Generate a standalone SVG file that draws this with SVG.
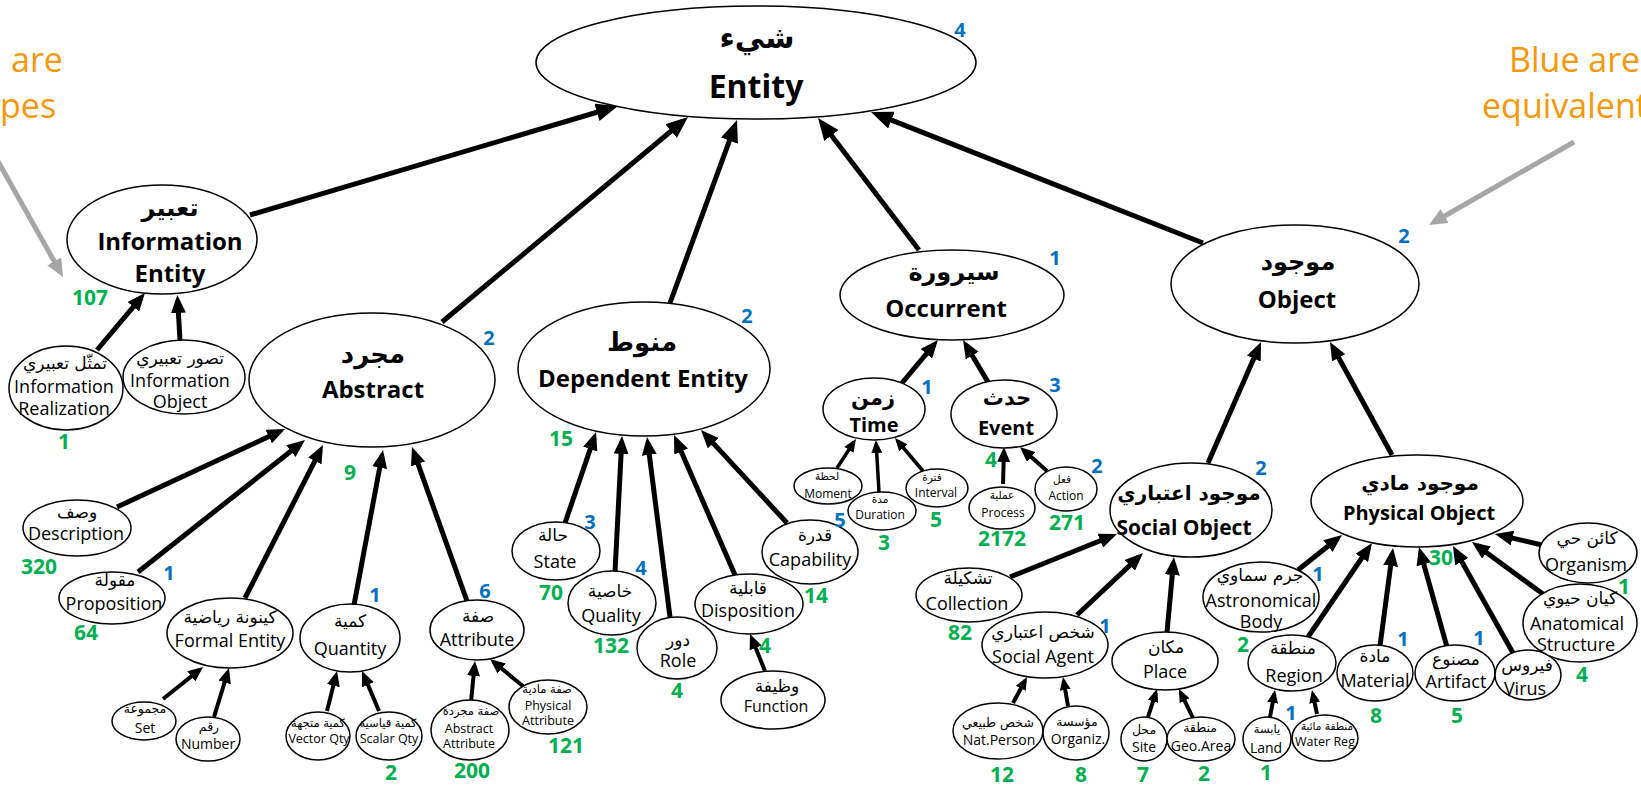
<svg xmlns="http://www.w3.org/2000/svg" width="1641" height="785" viewBox="0 0 1641 785">
<style>
  .nd ellipse { fill:#fff; stroke:#000; stroke-width:1.5; }
  text { text-anchor:middle; }
  .ar { font-family:"DejaVu Sans", sans-serif; fill:#000; }
  .en { font-family:"Open Sans", "Noto Sans", sans-serif; fill:#000; }
  .b { font-weight:bold; }
  .g { font-family:"Open Sans", "Noto Sans", sans-serif; font-weight:bold; font-size:21px; fill:#00b050; }
  .bl { font-family:"Open Sans", "Noto Sans", sans-serif; font-weight:bold; font-size:20px; fill:#0070c0; }
  .note { font-family:"Open Sans", "Noto Sans", sans-serif; font-size:34px; fill:#f7970a; text-anchor:start; }
  .c line { stroke:#000; stroke-linecap:butt; }
  .w5 { stroke-width:5; }
  .w4 { stroke-width:4; }
  .w35 { stroke-width:3.5; }
  .hA { marker-end:url(#hA); }
  .hM { marker-end:url(#hM); }
  .hQ { marker-end:url(#hQ); }
  .hS { marker-end:url(#hS); }
  .grey line { stroke:#a6a6a6; stroke-width:5; marker-end:url(#hG); }
</style>
<defs>
  <marker id="hA" markerUnits="userSpaceOnUse" markerWidth="22" markerHeight="18" refX="15" refY="9" orient="auto"><path d="M0,0 L22,9 L0,18 z" fill="#000"/></marker>
  <marker id="hM" markerUnits="userSpaceOnUse" markerWidth="18" markerHeight="15" refX="12" refY="7.5" orient="auto"><path d="M0,0 L18,7.5 L0,15 z" fill="#000"/></marker>
  <marker id="hQ" markerUnits="userSpaceOnUse" markerWidth="15" markerHeight="13" refX="10" refY="6.5" orient="auto"><path d="M0,0 L15,6.5 L0,13 z" fill="#000"/></marker>
  <marker id="hS" markerUnits="userSpaceOnUse" markerWidth="13" markerHeight="11" refX="9" refY="5.5" orient="auto"><path d="M0,0 L13,5.5 L0,11 z" fill="#000"/></marker>
  <marker id="hG" markerUnits="userSpaceOnUse" markerWidth="18" markerHeight="16" refX="12" refY="8" orient="auto"><path d="M0,0 L18,8 L0,16 z" fill="#a6a6a6"/></marker>
</defs>

<rect x="0" y="0" width="1641" height="785" fill="#fff"/>

<!-- side notes -->
<g id="notes">
  <text class="note" x="11" y="72">are</text>
  <text class="note" x="0" y="118">pes</text>
  <text class="note" x="1509" y="72">Blue are</text>
  <text class="note" x="1482" y="118">equivalent</text>
  <g class="grey">
    <line x1="-10" y1="147" x2="60.1" y2="271.8"/>
    <line x1="1574" y1="142" x2="1434.2" y2="222"/>
  </g>
</g>

<!-- subclass links, child to parent -->
<g id="connectors" class="c">
  <line class="w5 hA" x1="250" y1="215" x2="611.3" y2="108"/>
  <line class="w5 hA" x1="442" y1="322" x2="682.6" y2="121.5"/>
  <line class="w5 hA" x1="670" y1="303" x2="734.6" y2="126.6"/>
  <line class="w5 hA" x1="919" y1="250" x2="822.3" y2="123.6"/>
  <line class="w5 hA" x1="1203" y1="243" x2="877.5" y2="114.6"/>

  <line class="w5 hM" x1="97" y1="350" x2="141.1" y2="297.6"/>
  <line class="w5 hM" x1="180" y1="340" x2="177.7" y2="301"/>

  <line class="w5 hM" x1="117" y1="507" x2="279.6" y2="431.5"/>
  <line class="w5 hM" x1="138" y1="572" x2="300.3" y2="443.7"/>
  <line class="w5 hM" x1="245" y1="598" x2="320.3" y2="450.3"/>
  <line class="w5 hM" x1="354" y1="605" x2="381.9" y2="455.9"/>
  <line class="w5 hM" x1="467" y1="601" x2="414" y2="452.7"/>

  <line class="w5 hM" x1="565" y1="523" x2="594.1" y2="437.7"/>
  <line class="w5 hM" x1="615" y1="572" x2="621.7" y2="442"/>
  <line class="w5 hM" x1="670" y1="617" x2="647.8" y2="443"/>
  <line class="w5 hM" x1="735" y1="575" x2="676.4" y2="440.5"/>
  <line class="w5 hM" x1="787" y1="523" x2="705.1" y2="434.4"/>

  <line class="w4 hQ" x1="765" y1="671" x2="751.9" y2="638.6"/>

  <line class="w4 hQ" x1="163" y1="699" x2="199.1" y2="670.1"/>
  <line class="w4 hQ" x1="214" y1="717" x2="227.5" y2="672.8"/>
  <line class="w4 hQ" x1="327" y1="711" x2="335.8" y2="675.9"/>
  <line class="w4 hQ" x1="379" y1="711" x2="364" y2="675.6"/>
  <line class="w4 hQ" x1="471" y1="702" x2="474.5" y2="666"/>
  <line class="w4 hQ" x1="524" y1="687" x2="493.9" y2="662.2"/>

  <line class="w5 hM" x1="902" y1="383" x2="934.1" y2="344.6"/>
  <line class="w5 hM" x1="988" y1="382" x2="966.1" y2="345.2"/>

  <line class="w35 hS" x1="837" y1="468" x2="853.8" y2="442.3"/>
  <line class="w35 hS" x1="879" y1="492" x2="876.2" y2="444"/>
  <line class="w35 hS" x1="923" y1="471" x2="897.6" y2="441"/>

  <line class="w4 hQ" x1="1003" y1="484" x2="1003.9" y2="452"/>
  <line class="w4 hQ" x1="1047" y1="471" x2="1023.7" y2="450.3"/>

  <line class="w5 hM" x1="1208" y1="463" x2="1258.6" y2="347.5"/>
  <line class="w5 hM" x1="1392" y1="455" x2="1332.9" y2="347.3"/>

  <line class="w5 hM" x1="1010" y1="577" x2="1111.4" y2="536.2"/>
  <line class="w5 hM" x1="1077" y1="615" x2="1138.6" y2="557.1"/>
  <line class="w5 hM" x1="1167" y1="632" x2="1173.4" y2="563"/>

  <line class="w4 hS" x1="1013" y1="703" x2="1025.1" y2="680.5"/>
  <line class="w4 hS" x1="1068" y1="706" x2="1063.7" y2="681"/>
  <line class="w4 hS" x1="1148" y1="717" x2="1155.8" y2="692.8"/>
  <line class="w4 hS" x1="1193" y1="718" x2="1180.7" y2="692.6"/>

  <line class="w5 hM" x1="1298" y1="570" x2="1337.3" y2="538.7"/>
  <line class="w5 hM" x1="1308" y1="637" x2="1368.6" y2="548"/>
  <line class="w5 hM" x1="1380" y1="646" x2="1392.2" y2="554"/>
  <line class="w5 hM" x1="1447" y1="647" x2="1420.6" y2="552.8"/>
  <line class="w5 hM" x1="1513" y1="653" x2="1455.9" y2="551.2"/>
  <line class="w5 hM" x1="1543" y1="594" x2="1476.8" y2="545.5"/>
  <line class="w5 hM" x1="1542" y1="545" x2="1500.8" y2="535.4"/>

  <line class="w4 hS" x1="1270" y1="717" x2="1274.3" y2="693.9"/>
  <line class="w4 hS" x1="1317" y1="714" x2="1312.8" y2="693.9"/>
</g>

<!-- root -->
<g id="n-entity" class="nd">
  <ellipse cx="756" cy="62.5" rx="220" ry="56.5"/>
  <text class="ar b" x="757" y="48" font-size="30">شيء</text>
  <text class="en b" x="756" y="98" font-size="32">Entity</text>
  <text class="bl" x="960" y="37">4</text>
</g>

<!-- first level -->
<g id="n-information-entity" class="nd">
  <ellipse cx="162" cy="239.5" rx="95" ry="54.5"/>
  <text class="ar b" x="170" y="216" font-size="24">تعبير</text>
  <text class="en b" x="170" y="250" font-size="24">Information</text>
  <text class="en b" x="170" y="282" font-size="24">Entity</text>
  <text class="g" x="90" y="305">107</text>
</g>
<g id="n-abstract" class="nd">
  <ellipse cx="372" cy="380" rx="123" ry="67"/>
  <text class="ar b" x="373" y="363" font-size="26">مجرد</text>
  <text class="en b" x="373" y="398" font-size="24">Abstract</text>
  <text class="bl" x="489" y="345">2</text>
  <text class="g" x="350" y="480">9</text>
</g>
<g id="n-dependent-entity" class="nd">
  <ellipse cx="644" cy="369" rx="126" ry="67"/>
  <text class="ar b" x="642" y="351" font-size="26">منوط</text>
  <text class="en b" x="643" y="387" font-size="24">Dependent Entity</text>
  <text class="bl" x="747" y="323">2</text>
  <text class="g" x="561" y="446">15</text>
</g>
<g id="n-occurrent" class="nd">
  <ellipse cx="952" cy="295" rx="112" ry="45"/>
  <text class="ar b" x="954" y="280" font-size="24">سيرورة</text>
  <text class="en b" x="946" y="317" font-size="24">Occurrent</text>
  <text class="bl" x="1055" y="265">1</text>
</g>
<g id="n-object" class="nd">
  <ellipse cx="1295" cy="284" rx="124" ry="59"/>
  <text class="ar b" x="1298" y="270" font-size="24">موجود</text>
  <text class="en b" x="1297" y="308" font-size="24">Object</text>
  <text class="bl" x="1404" y="243">2</text>
</g>

<!-- information entity branch -->
<g id="n-information-realization" class="nd">
  <ellipse cx="66" cy="388" rx="57" ry="42"/>
  <text class="ar" x="65" y="369" font-size="17">تمثّل تعبيري</text>
  <text class="en" x="64" y="393" font-size="18">Information</text>
  <text class="en" x="64" y="415" font-size="18">Realization</text>
  <text class="g" x="64" y="449">1</text>
</g>
<g id="n-information-object" class="nd">
  <ellipse cx="184" cy="377" rx="61" ry="37"/>
  <text class="ar" x="180" y="364" font-size="17">تصور تعبيري</text>
  <text class="en" x="180" y="387" font-size="18">Information</text>
  <text class="en" x="180" y="408" font-size="18">Object</text>
</g>

<!-- abstract branch -->
<g id="n-description" class="nd">
  <ellipse cx="77" cy="528" rx="54" ry="28"/>
  <text class="ar" x="77" y="518" font-size="17">وصف</text>
  <text class="en" x="76" y="540" font-size="18">Description</text>
  <text class="g" x="39" y="574">320</text>
</g>
<g id="n-proposition" class="nd">
  <ellipse cx="112" cy="598" rx="53" ry="26"/>
  <text class="ar" x="115" y="586" font-size="17">مقولة</text>
  <text class="en" x="114" y="610" font-size="18">Proposition</text>
  <text class="bl" x="169" y="580">1</text>
  <text class="g" x="86" y="640">64</text>
</g>
<g id="n-formal-entity" class="nd">
  <ellipse cx="230" cy="633" rx="63" ry="35"/>
  <text class="ar" x="230" y="623" font-size="17">كينونة رياضية</text>
  <text class="en" x="230" y="647" font-size="18">Formal Entity</text>
</g>
<g id="n-set" class="nd">
  <ellipse cx="144" cy="721" rx="32" ry="19"/>
  <text class="ar" x="145" y="713" font-size="12.5">مجموعة</text>
  <text class="en" x="145" y="733" font-size="14">Set</text>
</g>
<g id="n-number" class="nd">
  <ellipse cx="208" cy="739" rx="32" ry="22"/>
  <text class="ar" x="209" y="731" font-size="12.5">رقم</text>
  <text class="en" x="208" y="749" font-size="14">Number</text>
</g>
<g id="n-quantity" class="nd">
  <ellipse cx="350" cy="638" rx="50" ry="34"/>
  <text class="ar" x="350" y="627" font-size="17">كمية</text>
  <text class="en" x="350" y="655" font-size="18">Quantity</text>
  <text class="bl" x="375" y="602">1</text>
</g>
<g id="n-vector-qty" class="nd">
  <ellipse cx="318" cy="736" rx="32" ry="24"/>
  <text class="ar" x="318" y="727" font-size="11.5">كمية متجهة</text>
  <text class="en" x="319" y="743" font-size="12.5">Vector Qty</text>
</g>
<g id="n-scalar-qty" class="nd">
  <ellipse cx="389" cy="736" rx="33" ry="24"/>
  <text class="ar" x="388" y="727" font-size="11.5">كمية قياسية</text>
  <text class="en" x="389" y="743" font-size="12.5">Scalar Qty</text>
  <text class="g" x="391" y="780">2</text>
</g>
<g id="n-attribute" class="nd">
  <ellipse cx="477" cy="630" rx="47" ry="30"/>
  <text class="ar" x="478" y="622" font-size="17">صفة</text>
  <text class="en" x="477" y="646" font-size="18">Attribute</text>
  <text class="bl" x="485" y="598">6</text>
</g>
<g id="n-abstract-attribute" class="nd">
  <ellipse cx="470" cy="730" rx="39" ry="30"/>
  <text class="ar" x="471" y="715" font-size="11.5">صفة مجردة</text>
  <text class="en" x="469" y="733" font-size="12.5">Abstract</text>
  <text class="en" x="469" y="748" font-size="12.5">Attribute</text>
  <text class="g" x="472" y="778">200</text>
</g>
<g id="n-physical-attribute" class="nd">
  <ellipse cx="548" cy="707" rx="39" ry="27"/>
  <text class="ar" x="547" y="693" font-size="11.5">صفة مادية</text>
  <text class="en" x="548" y="710" font-size="12.5">Physical</text>
  <text class="en" x="548" y="725" font-size="12.5">Attribute</text>
  <text class="g" x="566" y="753">121</text>
</g>

<!-- dependent entity branch -->
<g id="n-state" class="nd">
  <ellipse cx="556" cy="551" rx="44" ry="29"/>
  <text class="ar" x="553" y="541" font-size="17">حالة</text>
  <text class="en" x="555" y="568" font-size="18">State</text>
  <text class="bl" x="590" y="529">3</text>
  <text class="g" x="551" y="600">70</text>
</g>
<g id="n-quality" class="nd">
  <ellipse cx="612" cy="603" rx="44" ry="32"/>
  <text class="ar" x="610" y="597" font-size="17">خاصية</text>
  <text class="en" x="611" y="622" font-size="18">Quality</text>
  <text class="bl" x="641" y="575">4</text>
  <text class="g" x="611" y="653">132</text>
</g>
<g id="n-role" class="nd">
  <ellipse cx="677" cy="648" rx="40" ry="31"/>
  <text class="ar" x="678" y="646" font-size="17">دور</text>
  <text class="en" x="678" y="667" font-size="18">Role</text>
  <text class="g" x="677" y="698">4</text>
</g>
<g id="n-disposition" class="nd">
  <ellipse cx="749" cy="604" rx="54" ry="30"/>
  <text class="ar" x="748" y="594" font-size="17">قابلية</text>
  <text class="en" x="748" y="617" font-size="18">Disposition</text>
  <text class="g" x="765" y="653">4</text>
</g>
<g id="n-function" class="nd">
  <ellipse cx="773" cy="700" rx="52" ry="29"/>
  <text class="ar" x="777" y="692" font-size="17">وظيفة</text>
  <text class="en" x="776" y="712" font-size="16">Function</text>
</g>
<g id="n-capability" class="nd">
  <ellipse cx="810" cy="552" rx="48" ry="32"/>
  <text class="ar" x="815" y="541" font-size="17">قدرة</text>
  <text class="en" x="810" y="566" font-size="18">Capability</text>
  <text class="g" x="816" y="603">14</text>
</g>

<!-- occurrent branch -->
<g id="n-time" class="nd">
  <ellipse cx="874" cy="409" rx="51" ry="31"/>
  <text class="ar b" x="873" y="405" font-size="21">زمن</text>
  <text class="en b" x="874" y="432" font-size="20">Time</text>
  <text class="bl" x="927" y="394">1</text>
</g>
<g id="n-event" class="nd">
  <ellipse cx="1004" cy="414" rx="53" ry="34"/>
  <text class="ar b" x="1007" y="405" font-size="21">حدث</text>
  <text class="en b" x="1006" y="435" font-size="20">Event</text>
  <text class="bl" x="1055" y="392">3</text>
</g>
<g id="n-moment" class="nd">
  <ellipse cx="828" cy="486" rx="34" ry="18"/>
  <text class="ar" x="827" y="480" font-size="10.5">لحظة</text>
  <text class="en" x="828" y="498" font-size="12">Moment</text>
  <text class="bl" x="840" y="527">5</text>
</g>
<g id="n-duration" class="nd">
  <ellipse cx="882" cy="511" rx="34" ry="19"/>
  <text class="ar" x="880" y="503" font-size="10.5">مدة</text>
  <text class="en" x="880" y="519" font-size="12">Duration</text>
  <text class="g" x="884" y="550">3</text>
</g>
<g id="n-interval" class="nd">
  <ellipse cx="937" cy="488" rx="31" ry="19"/>
  <text class="ar" x="932" y="481" font-size="10.5">فترة</text>
  <text class="en" x="936" y="497" font-size="12">Interval</text>
  <text class="g" x="936" y="527">5</text>
</g>
<g id="n-process" class="nd">
  <ellipse cx="1002" cy="508" rx="33" ry="21"/>
  <text class="ar" x="1002" y="499" font-size="10.5">عملية</text>
  <text class="en" x="1003" y="517" font-size="12">Process</text>
  <text class="g" x="991" y="467">4</text>
  <text class="g" x="1002" y="546">2172</text>
</g>
<g id="n-action" class="nd">
  <ellipse cx="1066" cy="489" rx="31" ry="22"/>
  <text class="ar" x="1062" y="483" font-size="10.5">فعل</text>
  <text class="en" x="1066" y="500" font-size="12">Action</text>
  <text class="bl" x="1097" y="473">2</text>
  <text class="g" x="1067" y="530">271</text>
</g>

<!-- object branch -->
<g id="n-social-object" class="nd">
  <ellipse cx="1191" cy="510" rx="81" ry="47"/>
  <text class="ar b" x="1189" y="500" font-size="20">موجود اعتباري</text>
  <text class="en b" x="1184" y="535" font-size="21">Social Object</text>
  <text class="bl" x="1261" y="475">2</text>
</g>
<g id="n-physical-object" class="nd">
  <ellipse cx="1417" cy="501" rx="106" ry="46"/>
  <text class="ar b" x="1420" y="490" font-size="20">موجود مادي</text>
  <text class="en b" x="1419" y="520" font-size="20">Physical Object</text>
  <text class="g" x="1441" y="565">30</text>
</g>
<g id="n-collection" class="nd">
  <ellipse cx="969" cy="595" rx="53" ry="27"/>
  <text class="ar" x="968" y="584" font-size="17">تشكيلة</text>
  <text class="en" x="967" y="610" font-size="18">Collection</text>
  <text class="g" x="960" y="640">82</text>
</g>
<g id="n-social-agent" class="nd">
  <ellipse cx="1045" cy="645" rx="63" ry="33"/>
  <text class="ar" x="1043" y="638" font-size="17">شخص اعتباري</text>
  <text class="en" x="1043" y="663" font-size="18">Social Agent</text>
  <text class="bl" x="1105" y="633">1</text>
</g>
<g id="n-place" class="nd">
  <ellipse cx="1165" cy="661" rx="53" ry="29"/>
  <text class="ar" x="1166" y="653" font-size="17">مكان</text>
  <text class="en" x="1165" y="678" font-size="18">Place</text>
</g>
<g id="n-nat-person" class="nd">
  <ellipse cx="998" cy="731" rx="45" ry="28"/>
  <text class="ar" x="998" y="727" font-size="12.5">شخص طبيعي</text>
  <text class="en" x="999" y="745" font-size="14">Nat.Person</text>
  <text class="g" x="1002" y="782">12</text>
</g>
<g id="n-organization" class="nd">
  <ellipse cx="1076" cy="733" rx="33" ry="27"/>
  <text class="ar" x="1077" y="726" font-size="12.5">مؤسسة</text>
  <text class="en" x="1078" y="744" font-size="14">Organiz.</text>
  <text class="g" x="1081" y="782">8</text>
</g>
<g id="n-site" class="nd">
  <ellipse cx="1144" cy="739" rx="23" ry="22"/>
  <text class="ar" x="1144" y="734" font-size="12.5">محل</text>
  <text class="en" x="1144" y="752" font-size="14">Site</text>
  <text class="g" x="1143" y="782">7</text>
</g>
<g id="n-geo-area" class="nd">
  <ellipse cx="1201" cy="739" rx="34" ry="22"/>
  <text class="ar" x="1200" y="732" font-size="12.5">منطقة</text>
  <text class="en" x="1201" y="751" font-size="14">Geo.Area</text>
  <text class="g" x="1204" y="781">2</text>
</g>
<g id="n-astronomical-body" class="nd">
  <ellipse cx="1261" cy="597" rx="58" ry="35"/>
  <text class="ar" x="1260" y="581" font-size="17">جرم سماوي</text>
  <text class="en" x="1261" y="607" font-size="18">Astronomical</text>
  <text class="en" x="1261" y="628" font-size="18">Body</text>
  <text class="bl" x="1318" y="581">1</text>
  <text class="g" x="1243" y="652">2</text>
</g>
<g id="n-region" class="nd">
  <ellipse cx="1292" cy="663" rx="44" ry="28"/>
  <text class="ar" x="1293" y="654" font-size="17">منطقة</text>
  <text class="en" x="1294" y="682" font-size="18">Region</text>
</g>
<g id="n-land" class="nd">
  <ellipse cx="1267" cy="739" rx="24" ry="22"/>
  <text class="ar" x="1267" y="733" font-size="11.5">يابسة</text>
  <text class="en" x="1266" y="753" font-size="14">Land</text>
  <text class="g" x="1266" y="780">1</text>
</g>
<g id="n-water-region" class="nd">
  <ellipse cx="1325" cy="738" rx="33" ry="23"/>
  <text class="ar" x="1327" y="730" font-size="10.5">منطقة مائية</text>
  <text class="en" x="1325" y="746" font-size="12.5">Water Reg</text>
  <text class="bl" x="1291" y="720">1</text>
</g>
<g id="n-material" class="nd">
  <ellipse cx="1375" cy="673" rx="38" ry="28"/>
  <text class="ar" x="1375" y="662" font-size="17">مادة</text>
  <text class="en" x="1375" y="687" font-size="18">Material</text>
  <text class="bl" x="1403" y="646">1</text>
  <text class="g" x="1376" y="723">8</text>
</g>
<g id="n-artifact" class="nd">
  <ellipse cx="1455" cy="673" rx="40" ry="28"/>
  <text class="ar" x="1456" y="665" font-size="17">مصنوع</text>
  <text class="en" x="1456" y="688" font-size="18">Artifact</text>
  <text class="bl" x="1479" y="645">1</text>
  <text class="g" x="1457" y="723">5</text>
</g>
<g id="n-virus" class="nd">
  <ellipse cx="1528" cy="675" rx="33" ry="25"/>
  <text class="ar" x="1527" y="671" font-size="17">فيروس</text>
  <text class="en" x="1525" y="695" font-size="18">Virus</text>
</g>
<g id="n-anatomical-structure" class="nd">
  <ellipse cx="1580" cy="623" rx="57" ry="39"/>
  <text class="ar" x="1580" y="604" font-size="17">كيان حيوي</text>
  <text class="en" x="1577" y="630" font-size="18">Anatomical</text>
  <text class="en" x="1576" y="651" font-size="18">Structure</text>
  <text class="g" x="1582" y="682">4</text>
  <text class="g" x="1624" y="594">1</text>
</g>
<g id="n-organism" class="nd">
  <ellipse cx="1588" cy="553" rx="49" ry="30"/>
  <text class="ar" x="1587" y="544" font-size="17">كائن حي</text>
  <text class="en" x="1586" y="571" font-size="18">Organism</text>
</g>
</svg>
